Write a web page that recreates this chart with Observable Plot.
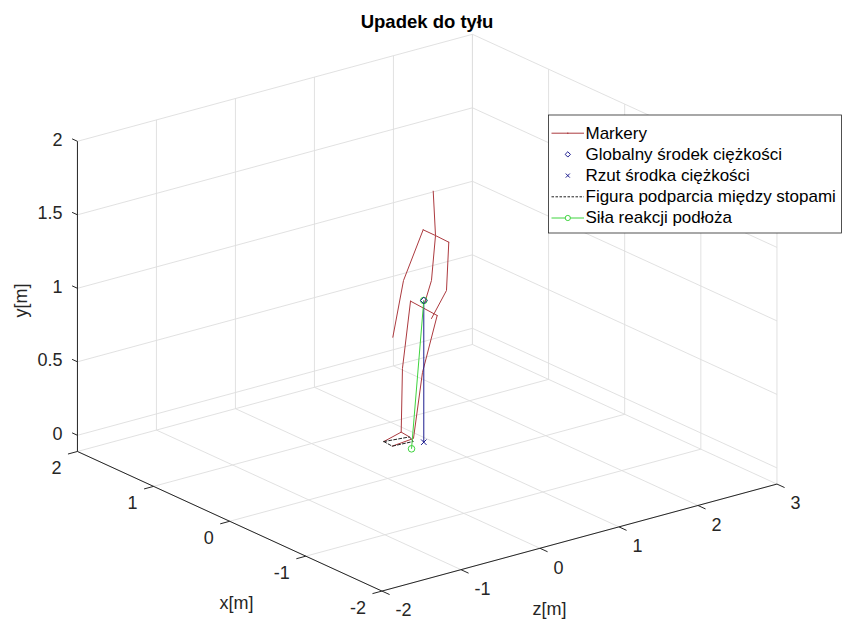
<!DOCTYPE html>
<html><head><meta charset="utf-8">
<script src="https://cdn.jsdelivr.net/npm/d3@7"></script>
<script src="https://cdn.jsdelivr.net/npm/@observablehq/plot@0.6"></script>
<style>body{margin:0;background:#fff;} #chart svg{display:block;}</style>
</head><body><div id="chart"></div>
<script>
// ---------- data ----------
const title = "Upadek do tyłu";
const xLabel = "x[m]", yLabel = "y[m]", zLabel = "z[m]";
const xTicks = [-2, -1, 0, 1, 2];
const yTicks = [0, 0.5, 1, 1.5, 2];
const zTicks = [-2, -1, 0, 1, 2, 3];
const xTickLabels = ["-2", "-1", "0", "1", "2"];
const yTickLabels = ["0", "0.5", "1", "1.5", "2"];
const zTickLabels = ["-2", "-1", "0", "1", "2", "3"];
const xLim = [-2, 2], yLim = [-0.11, 2], zLim = [-2, 3];

// body markers (metres)
const markerNames = ["head","neck","spine","pelvis","lShoulder","lElbow","lWrist","rShoulder","rElbow","rWrist",
  "lHip","lKnee","lAnkle","lToe","lHeel","rHip","rKnee","rAnkle","rToe","rHeel"];
const markerX = [0.25,0.25,0.25,0.25,0.30,0.30,0.30,0.20,0.20,0.20,0.30,0.30,0.30,0.30,0.30,0.20,0.20,0.20,0.20,0.20];
const markerY = [1.666,1.360,1.062,0.918,1.403,1.094,0.728,1.309,0.985,0.822,0.941,0.498,0.067,0.035,0.019,0.832,0.471,0.039,0.026,0.019];
const markerZ = [0.817,0.846,0.795,0.707,0.738,0.489,0.354,0.966,0.937,0.747,0.578,0.476,0.460,0.240,0.565,0.819,0.633,0.519,0.250,0.516];
const skeletonChains = [
  ["head","neck","spine","pelvis"],
  ["lShoulder","neck","rShoulder"],
  ["lShoulder","lElbow","lWrist"],
  ["rShoulder","rElbow","rWrist"],
  ["lHip","rHip"],
  ["lHip","lKnee","lAnkle","lToe"],
  ["lAnkle","lHeel"],
  ["rHip","rKnee","rAnkle","rToe"]
];
const supportPolygon = ["lToe","rToe","rHeel","lHeel","lToe"];

// centre of gravity, its projection, ground reaction force
const cogXYZ = [0.186, 0.964, 0.636];
const cogProjXYZ = [0.186, 0, 0.636];
const grfStartXYZ = [0.127, 0, 0.424];
const grfEndXYZ = [0.186, 0.964, 0.636];

const legendLabels = ["Markery","Globalny środek ciężkości","Rzut środka ciężkości","Figura podparcia między stopami","Siła reakcji podłoża"];

// ---------- view (orthographic projection of the 3-D box) ----------
const O = [387.2, 461.8], EX = [-76.13, -34.9], EY = [0, -147], EZ = [79, -21.4];
const P = (x, y, z) => ({u: O[0] + EX[0]*x + EY[0]*y + EZ[0]*z, v: O[1] + EX[1]*x + EY[1]*y + EZ[1]*z});
const seg = (a, b) => { const p = P(...a), q = P(...b); return {u1: p.u, v1: p.v, u2: q.u, v2: q.v}; };

const [x0, x1] = xLim, [y0, y1] = yLim, [z0, z1] = zLim;
const grid = [];
for (const x of xTicks) { grid.push(seg([x,y0,z0],[x,y0,z1])); grid.push(seg([x,y0,z1],[x,y1,z1])); }
for (const z of zTicks) { grid.push(seg([x0,y0,z],[x1,y0,z])); grid.push(seg([x1,y0,z],[x1,y1,z])); }
for (const y of yTicks) { grid.push(seg([x1,y,z0],[x1,y,z1])); grid.push(seg([x1,y,z1],[x0,y,z1])); }

const axes = [seg([x1,y0,z0],[x1,y1,z0]), seg([x1,y0,z0],[x0,y0,z0]), seg([x0,y0,z0],[x0,y0,z1])];
const tickSegs = [];
for (const x of xTicks) tickSegs.push(seg([x,y0,z0],[x,y0,z0-0.12]));
for (const z of zTicks) tickSegs.push(seg([x0,y0,z],[x0-0.1,y0,z]));
for (const y of yTicks) tickSegs.push(seg([x1,y,z0],[x1+0.07,y,z0]));

const xTickText = xTicks.map((x,i) => { const p = P(x,y0,z0); return {u:p.u-16, v:p.v+17, t:xTickLabels[i]}; });
const zTickText = zTicks.map((z,i) => { const p = P(x0,y0,z); return {u:p.u+13.5, v:p.v+19.5, t:zTickLabels[i]}; });
const yTickText = yTicks.map((y,i) => { const p = P(x1,y,z0); return {u:p.u-15, v:p.v-1.5, t:yTickLabels[i]}; });

const idx = Object.fromEntries(markerNames.map((n,i)=>[n,i]));
const pt = n => P(markerX[idx[n]], markerY[idx[n]], markerZ[idx[n]]);
const skel = skeletonChains.flatMap((c,k) => c.map(n => ({...pt(n), k})));
const poly = supportPolygon.map(n => pt(n));
const cog = P(...cogXYZ), cogP = P(...cogProjXYZ), g0 = P(...grfStartXYZ), g1 = P(...grfEndXYZ);

const RED = "#ac3a3f", BLUE = "#1c1c8f", GREEN = "#3fd43f", AX = "#262626";
const FONT = "'Liberation Sans', Arial, Helvetica, sans-serif";
const FS = 18;

// legend layout
const LX = 551, LX2 = 583.5, LM = 567.3, LT = 585, rowY = i => 132.7 + i*21.2;

const chart = Plot.plot({
  width: 842, height: 621, margin: 0,
  x: {domain: [0, 842], range: [0, 842], axis: null},
  y: {domain: [0, 621], range: [0, 621], axis: null},
  style: {fontFamily: FONT, background: "#fff"},
  marks: [
    Plot.link(grid, {x1:"u1", y1:"v1", x2:"u2", y2:"v2", stroke:"#dedede", strokeWidth:0.9}),
    Plot.link(axes, {x1:"u1", y1:"v1", x2:"u2", y2:"v2", stroke:AX, strokeWidth:1}),
    Plot.link(tickSegs, {x1:"u1", y1:"v1", x2:"u2", y2:"v2", stroke:AX, strokeWidth:1}),
    Plot.text(xTickText, {x:"u", y:"v", text:"t", textAnchor:"end", lineAnchor:"middle", fontSize:FS, fill:AX}),
    Plot.text(zTickText, {x:"u", y:"v", text:"t", textAnchor:"start", lineAnchor:"middle", fontSize:FS, fill:AX}),
    Plot.text(yTickText, {x:"u", y:"v", text:"t", textAnchor:"end", lineAnchor:"middle", fontSize:FS, fill:AX}),
    Plot.text([{u:236, v:603, t:xLabel}], {x:"u", y:"v", text:"t", lineAnchor:"middle", fontSize:FS, fill:AX}),
    Plot.text([{u:549, v:609, t:zLabel}], {x:"u", y:"v", text:"t", lineAnchor:"middle", fontSize:FS, fill:AX}),
    Plot.text([{u:21, v:300, t:yLabel}], {x:"u", y:"v", text:"t", rotate:-90, lineAnchor:"middle", fontSize:FS, fill:AX}),
    Plot.text([{u:426.5, v:22, t:title}], {x:"u", y:"v", text:"t", lineAnchor:"middle", fontSize:18.5, fontWeight:"bold", fill:"#000"}),
    // body
    Plot.line(skel, {x:"u", y:"v", z:"k", stroke:RED, strokeWidth:1, curve:"linear"}),
    Plot.line(poly, {x:"u", y:"v", stroke:"#222", strokeWidth:1, strokeDasharray:"3,2"}),
    Plot.link([{...cog, u2:cogP.u, v2:cogP.v}], {x1:"u", y1:"v", x2:"u2", y2:"v2", stroke:BLUE, strokeWidth:1}),
    Plot.link([{u:g0.u, v:g0.v, u2:g1.u, v2:g1.v}], {x1:"u", y1:"v", x2:"u2", y2:"v2", stroke:GREEN, strokeWidth:1}),
    Plot.dot([g0, g1], {x:"u", y:"v", r:3.3, stroke:GREEN, fill:"none", strokeWidth:1}),
    Plot.dot([cog], {x:"u", y:"v", r:3, symbol:"diamond2", stroke:BLUE, fill:"none", strokeWidth:1}),
    Plot.dot([cogP], {x:"u", y:"v", r:2.6, symbol:"times", stroke:BLUE, strokeWidth:1}),
    // legend
    Plot.rect([{a:548.5, b:841.5, c:115, d:233}], {x1:"a", x2:"b", y1:"c", y2:"d", fill:"#fff", stroke:AX, strokeWidth:0.8}),
    Plot.link([{a:LX, b:LX2, y:rowY(0)}], {x1:"a", x2:"b", y1:"y", y2:"y", stroke:RED, strokeWidth:1}),
    Plot.dot([{x:LM, y:rowY(0)}], {x:"x", y:"y", r:0.8, fill:RED}),
    Plot.dot([{x:LM, y:rowY(1)}], {x:"x", y:"y", r:2.4, symbol:"diamond2", stroke:BLUE, fill:"none", strokeWidth:1}),
    Plot.dot([{x:LM, y:rowY(2)}], {x:"x", y:"y", r:2, symbol:"times", stroke:BLUE, strokeWidth:1}),
    Plot.link([{a:LX, b:LX2, y:rowY(3)}], {x1:"a", x2:"b", y1:"y", y2:"y", stroke:"#222", strokeWidth:1, strokeDasharray:"2.5,1.5"}),
    Plot.link([{a:LX, b:LX2, y:rowY(4)}], {x1:"a", x2:"b", y1:"y", y2:"y", stroke:GREEN, strokeWidth:1}),
    Plot.dot([{x:LM, y:rowY(4)}], {x:"x", y:"y", r:2.6, stroke:GREEN, fill:"#fff", strokeWidth:1}),
    Plot.text(legendLabels.map((t,i)=>({t, x:LT, y:rowY(i)})), {x:"x", y:"y", text:"t", textAnchor:"start", lineAnchor:"middle", fontSize:17, fill:"#000"})
  ]
});
document.getElementById("chart").append(chart);
</script>
</body></html>
